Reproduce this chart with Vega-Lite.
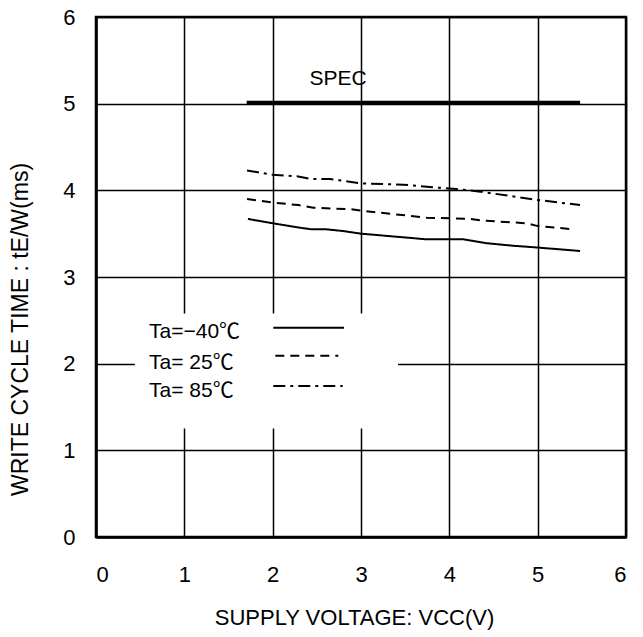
{
  "$schema": "https://vega.github.io/schema/vega-lite/v6.json",
  "width": 530,
  "height": 520,
  "autosize": {"type": "none"},
  "padding": {"left": 96, "top": 17, "right": 17, "bottom": 100},
  "background": "white",
  "config": {
    "font": "Liberation Sans",
    "view": {"stroke": "black", "strokeWidth": 2.5},
    "axis": {
      "grid": true,
      "gridColor": "black",
      "gridWidth": 1.5,
      "gridOpacity": 1,
      "domain": true,
      "domainColor": "black",
      "domainWidth": 2.5,
      "ticks": false,
      "labelFont": "Liberation Sans",
      "labelFontSize": 22,
      "labelColor": "black",
      "titleFont": "Liberation Sans",
      "titleFontSize": 22,
      "titleFontWeight": "normal",
      "titleColor": "black"
    }
  },
  "datasets": {
    "curves": [
      {"series": "-40", "v": 1.72, "t": 3.67},
      {"series": "-40", "v": 2.0, "t": 3.62},
      {"series": "-40", "v": 2.3, "t": 3.57},
      {"series": "-40", "v": 2.44, "t": 3.55},
      {"series": "-40", "v": 2.61, "t": 3.55},
      {"series": "-40", "v": 2.8, "t": 3.53},
      {"series": "-40", "v": 3.0, "t": 3.5},
      {"series": "-40", "v": 3.74, "t": 3.435},
      {"series": "-40", "v": 4.16, "t": 3.435},
      {"series": "-40", "v": 4.42, "t": 3.39},
      {"series": "-40", "v": 4.73, "t": 3.36},
      {"series": "-40", "v": 5.0, "t": 3.34},
      {"series": "-40", "v": 5.48, "t": 3.3},
      {"series": "25", "v": 1.71, "t": 3.9},
      {"series": "25", "v": 2.0, "t": 3.86},
      {"series": "25", "v": 2.29, "t": 3.83},
      {"series": "25", "v": 2.46, "t": 3.8},
      {"series": "25", "v": 2.91, "t": 3.78},
      {"series": "25", "v": 3.01, "t": 3.765},
      {"series": "25", "v": 3.74, "t": 3.685},
      {"series": "25", "v": 4.24, "t": 3.67},
      {"series": "25", "v": 4.39, "t": 3.65},
      {"series": "25", "v": 4.88, "t": 3.62},
      {"series": "25", "v": 4.99, "t": 3.59},
      {"series": "25", "v": 5.4, "t": 3.55},
      {"series": "85", "v": 1.71, "t": 4.23},
      {"series": "85", "v": 2.0, "t": 4.18},
      {"series": "85", "v": 2.29, "t": 4.16},
      {"series": "85", "v": 2.44, "t": 4.13},
      {"series": "85", "v": 2.65, "t": 4.13},
      {"series": "85", "v": 3.01, "t": 4.08},
      {"series": "85", "v": 3.48, "t": 4.065},
      {"series": "85", "v": 3.82, "t": 4.035},
      {"series": "85", "v": 4.08, "t": 4.015},
      {"series": "85", "v": 4.35, "t": 3.985},
      {"series": "85", "v": 4.99, "t": 3.89},
      {"series": "85", "v": 5.48, "t": 3.83}
    ],
    "keys": [
      {"series": "-40", "v": 2.007, "t": 2.415},
      {"series": "-40", "v": 2.808, "t": 2.415},
      {"series": "25", "v": 2.03, "t": 2.092},
      {"series": "25", "v": 2.743, "t": 2.092},
      {"series": "85", "v": 2.007, "t": 1.742},
      {"series": "85", "v": 2.793, "t": 1.742}
    ],
    "spec": [
      {"v": 1.706, "t": 5.01},
      {"v": 5.48, "t": 5.01}
    ],
    "box": [
      {"x1": 0.44, "x2": 3.42, "y1": 1.253, "y2": 2.58}
    ],
    "labels": [
      {"label": "Ta=−40℃", "v": 0.6, "t": 2.36},
      {"label": "Ta= 25℃", "v": 0.6, "t": 2.004},
      {"label": "Ta= 85℃", "v": 0.6, "t": 1.68}
    ],
    "spectext": [
      {"label": "SPEC", "v": 2.74, "t": 5.285}
    ]
  },
  "layer": [
    {
      "data": {"name": "box"},
      "mark": {"type": "rect", "fill": "white", "stroke": null},
      "encoding": {
        "x": {"field": "x1", "type": "quantitative", "scale": {"domain": [0, 6], "nice": false},
          "axis": {"values": [0, 1, 2, 3, 4, 5, 6], "format": "d", "labelPadding": 27, "title": "SUPPLY VOLTAGE: VCC(V)", "titlePadding": 22, "titleX": 258}},
        "x2": {"field": "x2"},
        "y": {"field": "y1", "type": "quantitative", "scale": {"domain": [0, 6], "nice": false},
          "axis": {"values": [0, 1, 2, 3, 4, 5, 6], "format": "d", "labelPadding": 21, "title": "WRITE CYCLE TIME : tE/W(ms)", "titleFontSize": 23, "titlePadding": 30, "titleY": 312}},
        "y2": {"field": "y2"}
      }
    },
    {
      "data": {"name": "curves"},
      "mark": {"type": "line", "color": "black", "strokeWidth": 2},
      "encoding": {
        "x": {"field": "v", "type": "quantitative"},
        "y": {"field": "t", "type": "quantitative"},
        "detail": {"field": "series"},
        "strokeDash": {"field": "series", "type": "nominal", "legend": null,
          "scale": {"domain": ["-40", "25", "85"], "range": [[1, 0], [9, 6], [12, 5, 3, 5]]}}
      }
    },
    {
      "data": {"name": "keys"},
      "mark": {"type": "line", "color": "black", "strokeWidth": 2},
      "encoding": {
        "x": {"field": "v", "type": "quantitative"},
        "y": {"field": "t", "type": "quantitative"},
        "detail": {"field": "series"},
        "strokeDash": {"field": "series", "type": "nominal", "legend": null,
          "scale": {"domain": ["-40", "25", "85"], "range": [[1, 0], [6, 6], [8, 5, 2, 5]]}}
      }
    },
    {
      "data": {"name": "spec"},
      "mark": {"type": "line", "color": "black", "strokeWidth": 4},
      "encoding": {
        "x": {"field": "v", "type": "quantitative"},
        "y": {"field": "t", "type": "quantitative"}
      }
    },
    {
      "data": {"name": "labels"},
      "mark": {"type": "text", "align": "left", "baseline": "middle", "fontSize": 21, "font": "Liberation Sans, Noto Sans CJK JP", "color": "black"},
      "encoding": {
        "x": {"field": "v", "type": "quantitative"},
        "y": {"field": "t", "type": "quantitative"},
        "text": {"field": "label"}
      }
    },
    {
      "data": {"name": "spectext"},
      "mark": {"type": "text", "align": "center", "baseline": "middle", "fontSize": 21, "font": "Liberation Sans", "color": "black"},
      "encoding": {
        "x": {"field": "v", "type": "quantitative"},
        "y": {"field": "t", "type": "quantitative"},
        "text": {"field": "label"}
      }
    }
  ]
}
